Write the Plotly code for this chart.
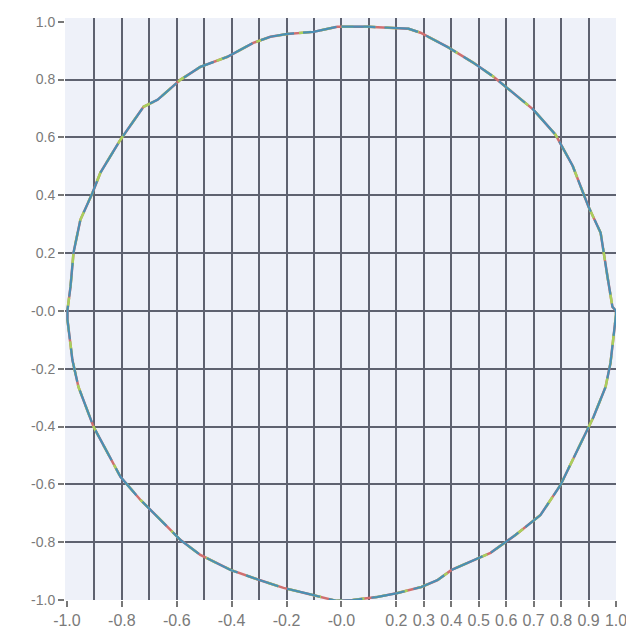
import plotly.graph_objects as go

# Circle vertices (clockwise from the top)
circle_x = [0.0, 0.095, 0.244, 0.288, 0.386, 0.481, 0.554, 0.627, 0.699, 0.780,
            0.842, 0.900, 0.944, 0.969, 0.987, 1.0, 1.0, 0.980, 0.962, 0.918,
            0.852, 0.798, 0.725, 0.634, 0.543, 0.401, 0.350, 0.291, 0.204, 0.128,
            0.040, -0.018, -0.120, -0.211, -0.299, -0.404, -0.514, -0.587, -0.659, -0.732,
            -0.805, -0.852, -0.903, -0.958, -0.980, -0.998, -0.998, -0.987, -0.976, -0.951,
            -0.907, -0.878, -0.805, -0.721, -0.670, -0.587, -0.514, -0.415, -0.321, -0.259,
            -0.197, -0.102, -0.015, 0.0]
circle_y = [0.983, 0.983, 0.976, 0.962, 0.913, 0.858, 0.810, 0.754, 0.696, 0.609,
            0.502, 0.360, 0.270, 0.118, 0.014, 0.0, -0.014, -0.180, -0.263, -0.367,
            -0.498, -0.602, -0.706, -0.775, -0.837, -0.896, -0.931, -0.955, -0.976, -0.990,
            -1.000, -1.003, -0.979, -0.958, -0.931, -0.896, -0.844, -0.792, -0.723, -0.654,
            -0.574, -0.491, -0.401, -0.263, -0.170, -0.031, 0.003, 0.083, 0.201, 0.315,
            0.408, 0.478, 0.592, 0.706, 0.730, 0.799, 0.844, 0.879, 0.927, 0.948,
            0.958, 0.965, 0.983, 0.983]

x_tick_vals = [-1.0, -0.8, -0.6, -0.4, -0.2, 0.0, 0.2, 0.3, 0.4, 0.5, 0.6, 0.7, 0.8, 0.9, 1.0]
x_tick_text = ["-1.0", "-0.8", "-0.6", "-0.4", "-0.2", "-0.0", "0.2", "0.3", "0.4",
               "0.5", "0.6", "0.7", "0.8", "0.9", "1.0"]
y_tick_vals = [1.0, 0.8, 0.6, 0.4, 0.2, 0.0, -0.2, -0.4, -0.6, -0.8, -1.0]
y_tick_text = ["1.0", "0.8", "0.6", "0.4", "0.2", "-0.0", "-0.2", "-0.4", "-0.6", "-0.8", "-1.0"]
x_grid_vals = [-0.9, -0.8, -0.7, -0.6, -0.5, -0.4, -0.3, -0.2, -0.1, 0.0,
               0.1, 0.2, 0.3, 0.4, 0.5, 0.6, 0.7, 0.8, 0.9]
y_grid_vals = [0.8, 0.6, 0.4, 0.2, 0.0, -0.2, -0.4, -0.6, -0.8]

series_styles = [("#cf6f6f", 2.5, "solid"),
                 ("#a9d05c", 2.5, "12px,10px"),
                 ("#4a8fb4", 2.2, "34px,9px")]

fig = go.Figure()
for color, width, dash in series_styles:
    fig.add_trace(go.Scatter(x=circle_x, y=circle_y, mode="lines",
                             line=dict(color=color, width=width, dash=dash),
                             hoverinfo="skip", showlegend=False))

grid_color = "#5e6270"
fig.update_layout(
    width=626, height=631,
    margin=dict(l=57, r=18, t=10, b=39),
    paper_bgcolor="#ffffff",
    plot_bgcolor="#eef1f9",
    font=dict(family="Liberation Sans, Arial, sans-serif", color="#7a7a7a"),
    xaxis=dict(range=[-1.007, 1.0], tickmode="array", tickvals=x_tick_vals,
               ticktext=x_tick_text, showgrid=False, zeroline=False, automargin=False,
               ticks="outside", ticklen=6, tickwidth=1.5, tickcolor="#777777",
               tickfont=dict(size=16, color="#7a7a7a"), showline=False,
               minor=dict(tickmode="array", tickvals=x_grid_vals, showgrid=True,
                          gridcolor=grid_color, gridwidth=2, ticks="")),
    yaxis=dict(range=[-1.0, 1.013], tickmode="array", tickvals=y_tick_vals,
               ticktext=y_tick_text, showgrid=False, zeroline=False, automargin=False,
               ticks="outside", ticklen=6, tickwidth=1.5, tickcolor="#777777",
               tickfont=dict(size=14, color="#7a7a7a"), showline=False,
               minor=dict(tickmode="array", tickvals=y_grid_vals, showgrid=True,
                          gridcolor=grid_color, gridwidth=2, ticks="")),
)

fig.write_html("out.html")
